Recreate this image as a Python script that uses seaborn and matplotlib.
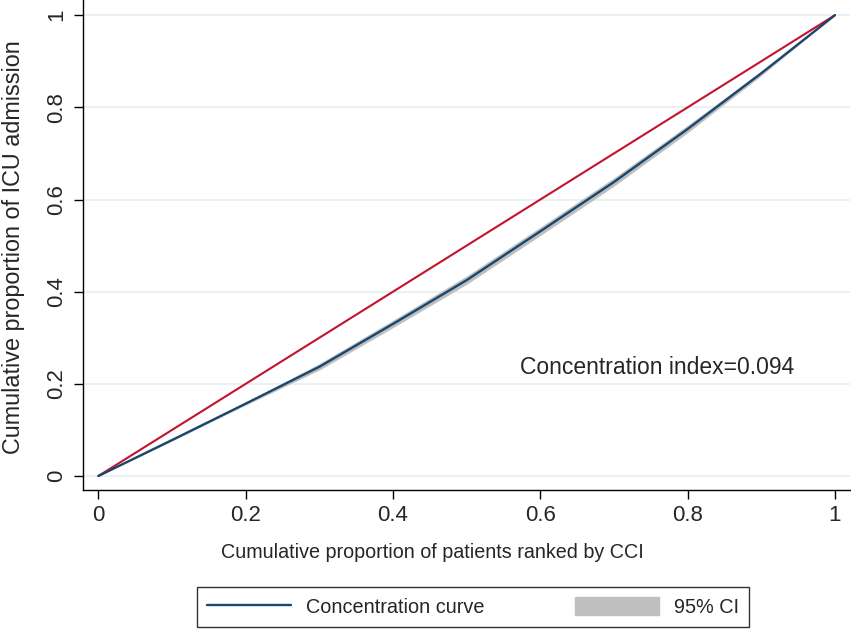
import matplotlib.pyplot as plt
import matplotlib.patches as mpatches
from matplotlib.lines import Line2D
import seaborn as sns
import pandas as pd
import numpy as np

# cumulative share of patients (ranked by CCI) and of ICU admissions
cum_patients = [0.0, 0.1, 0.2, 0.3, 0.4, 0.5, 0.6, 0.7, 0.8, 0.9, 1.0]
cum_icu = [0.0, 0.078, 0.157, 0.237, 0.330, 0.425, 0.531, 0.638, 0.753, 0.874, 1.0]
ci_low = [0.0, 0.076, 0.154, 0.230, 0.322, 0.416, 0.522, 0.629, 0.745, 0.869, 1.0]
ci_high = [0.0, 0.080, 0.160, 0.244, 0.338, 0.434, 0.540, 0.647, 0.761, 0.879, 1.0]
equality = [0.0, 1.0]
ticks = [0, 0.2, 0.4, 0.6, 0.8, 1]
tick_labels = ['0', '0.2', '0.4', '0.6', '0.8', '1']
ci_text = 'Concentration index=0.094'

navy = '#1a476f'
red = '#c4122f'
band = '#bfbfbf'
gridc = '#e8f0f2'

sns.set_style('ticks')
plt.rcParams['font.family'] = ['Liberation Sans', 'DejaVu Sans']
plt.rcParams['font.size'] = 14

df = pd.DataFrame({'p': cum_patients, 'icu': cum_icu, 'lo': ci_low, 'hi': ci_high})
eq = pd.DataFrame({'p': equality, 'icu': equality})

fig = plt.figure(figsize=(8.51, 6.30), dpi=100)
ax = fig.add_axes([83 / 851, 1 - 490 / 630, (850 - 83) / 851, 490 / 630])

ax.fill_between(df['p'], df['lo'], df['hi'], color=band, lw=0, zorder=2)
sns.lineplot(data=eq, x='p', y='icu', color=red, lw=1.5, ax=ax, zorder=3)
sns.lineplot(data=df, x='p', y='icu', color=navy, lw=1.7, ax=ax, zorder=4)

ax.set_xlim(-0.021, 1.0205)
ax.set_ylim(-0.0305, 1.033)
ax.set_xticks(ticks)
ax.set_xticklabels(tick_labels)
ax.set_yticks(ticks)
ax.set_yticklabels(tick_labels, rotation=90, va='center')
ax.tick_params(axis='both', length=6.5, width=1, color='black', labelsize=16)
ax.tick_params(axis='x', pad=4)
ax.tick_params(axis='y', pad=5)
ax.yaxis.grid(True, color=gridc, lw=1.3)
ax.set_axisbelow(True)
for s in ['top', 'right']:
    ax.spines[s].set_visible(False)
for s in ['left', 'bottom']:
    ax.spines[s].set_color('black')
    ax.spines[s].set_linewidth(1)
ax.set_xlabel('')
ax.set_ylabel('')

ax.text(0.572, 0.236, ci_text, ha='left', va='center', fontsize=16.5)

fig.text(432 / 851, 1 - 553 / 630, 'Cumulative proportion of patients ranked by CCI',
         ha='center', va='center', fontsize=14.2)
fig.text(14 / 851, 1 - 247 / 630, 'Cumulative proportion of ICU admission',
         ha='center', va='center', rotation=90, fontsize=16.8)

handles = [Line2D([0], [0], color=navy, lw=1.7),
           mpatches.Patch(color=band)]
leg = fig.legend(handles, ['Concentration curve', '95% CI'], ncol=2,
                 loc='lower center', bbox_to_anchor=(473 / 851, 3 / 630),
                 borderaxespad=0, frameon=True, fancybox=False, edgecolor='black',
                 fontsize=14.3, handlelength=4.2, handleheight=1.0,
                 columnspacing=4.6, borderpad=0.5, handletextpad=0.75)
leg.get_frame().set_linewidth(1)

fig.savefig('out.png', dpi=100)
